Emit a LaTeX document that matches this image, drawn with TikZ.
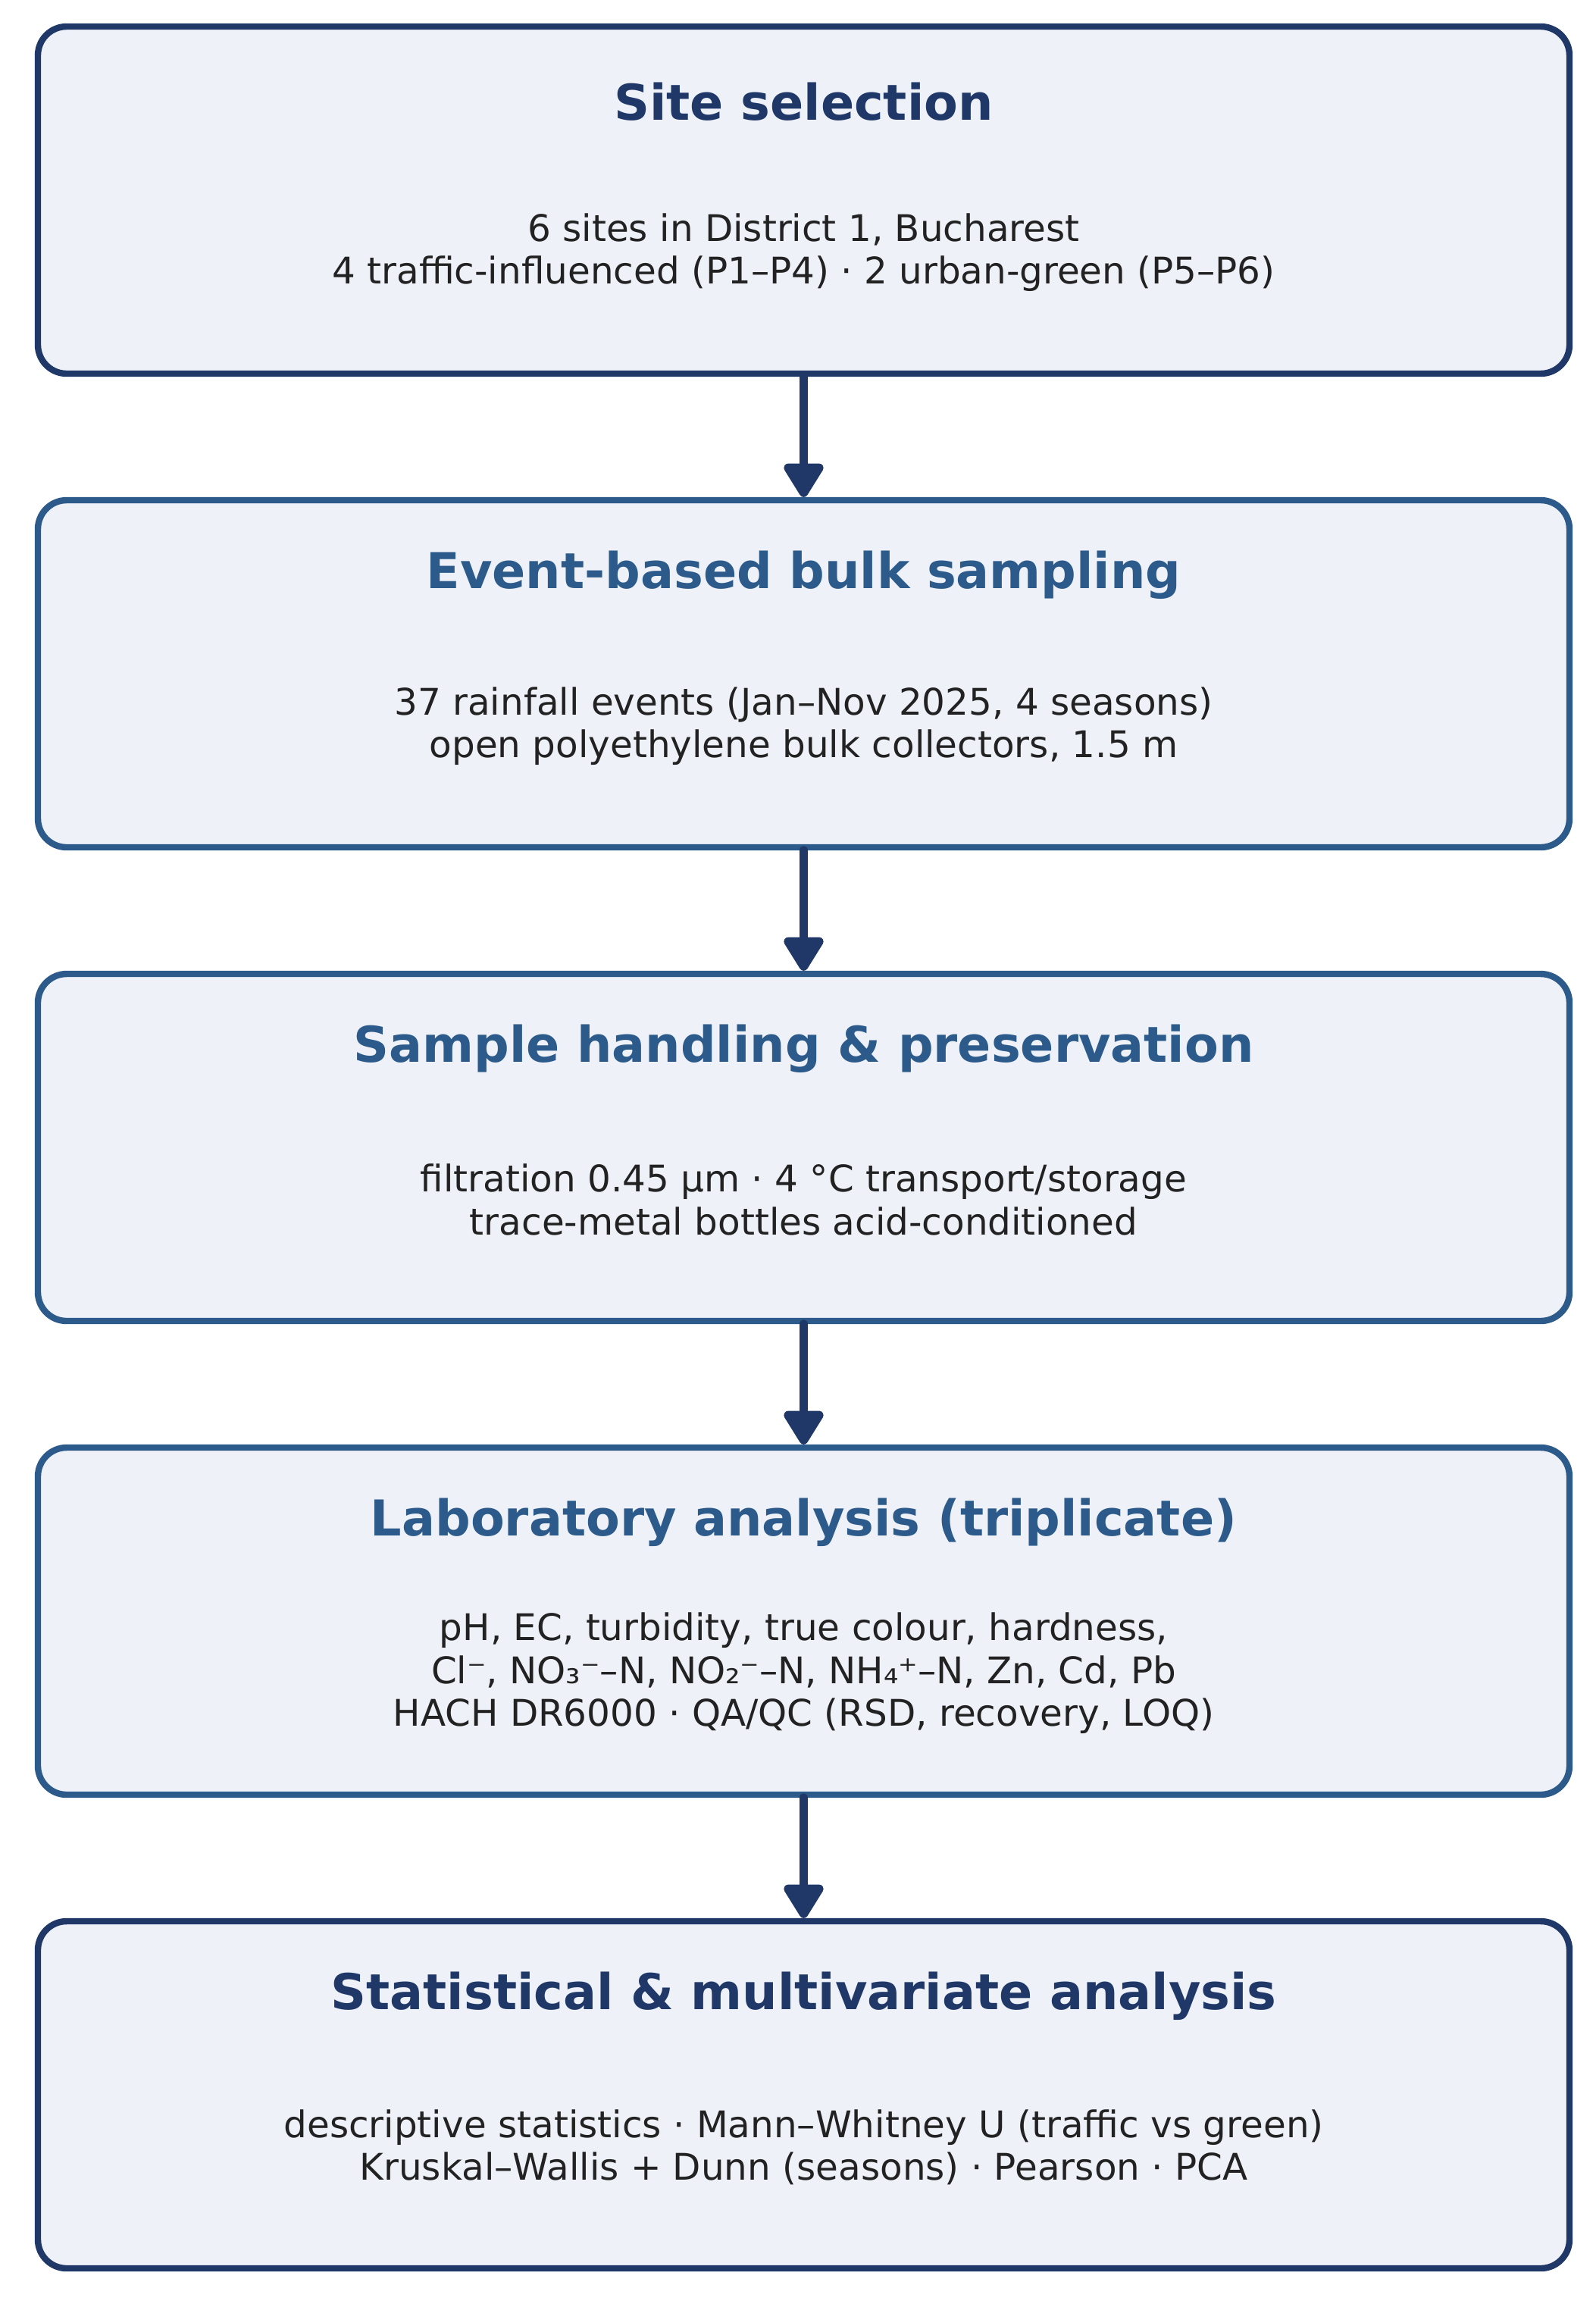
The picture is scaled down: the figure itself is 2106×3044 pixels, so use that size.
\documentclass[tikz,border=0pt]{standalone}
\usepackage{fontspec}
\setmainfont{DejaVu Sans}
\usetikzlibrary{arrows.meta}
\definecolor{navy}{HTML}{1F3868}
\definecolor{midblue}{HTML}{2C5A8A}
\definecolor{boxfill}{HTML}{EEF1F8}
\definecolor{bodytxt}{HTML}{222222}
\tikzset{
  stagebox/.style={draw, rounded corners=9.5pt, fill=boxfill, line width=2.1pt,
    minimum width=505.25pt, minimum height=114.5pt, inner sep=0pt},
  stagetitle/.style={font=\fontsize{16.3pt}{19pt}\selectfont\bfseries, inner sep=0pt, anchor=center},
  stagebody/.style={font=\fontsize{12.1pt}{14.1pt}\selectfont, text=bodytxt, align=center, inner sep=0pt, anchor=center},
  flowarrow/.style={draw=navy, line width=2.9pt, line cap=round,
    -{Triangle[width=14.5pt,length=12.5pt,round]}, fill=navy}
}
\begin{document}
\begin{tikzpicture}[x=0.25pt,y=-0.25pt]
\useasboundingbox (0,0) rectangle (2106,3044);
% boxes
\node[stagebox, draw=navy]    (b1) at (1060.5,264)  {};
\node[stagebox, draw=midblue] (b2) at (1060.5,889)  {};
\node[stagebox, draw=midblue] (b3) at (1060.5,1514) {};
\node[stagebox, draw=midblue] (b4) at (1060.5,2139) {};
\node[stagebox, draw=navy]    (b5) at (1060.5,2764) {};
% titles
\node[stagetitle, text=navy]    (t1) at (1060.5,134)  {Site selection};
\node[stagetitle, text=midblue] (t2) at (1060.5,759)  {Event-based bulk sampling};
\node[stagetitle, text=midblue] (t3) at (1060.5,1384) {Sample handling \& preservation};
\node[stagetitle, text=midblue] (t4) at (1060.5,2009) {Laboratory analysis (triplicate)};
\node[stagetitle, text=navy]    (t5) at (1060.5,2634) {Statistical \& multivariate analysis};
% bodies
\node[stagebody] (d1) at (1060.5,333)  {6 sites in District 1, Bucharest\\4 traffic-influenced (P1–P4) · 2 urban-green (P5–P6)};
\node[stagebody] (d2) at (1060.5,958)  {37 rainfall events (Jan–Nov 2025, 4 seasons)\\open polyethylene bulk collectors, 1.5 m};
\node[stagebody] (d3) at (1060.5,1583) {filtration 0.45 µm · 4 °C transport/storage\\trace-metal bottles acid-conditioned};
\node[stagebody] (d4) at (1060.5,2208) {pH, EC, turbidity, true colour, hardness,\\Cl⁻, NO₃⁻–N, NO₂⁻–N, NH₄⁺–N, Zn, Cd, Pb\\HACH DR6000 · QA/QC (RSD, recovery, LOQ)};
\node[stagebody] (d5) at (1060.5,2833) {descriptive statistics · Mann–Whitney U (traffic vs green)\\Kruskal–Wallis + Dunn (seasons) · Pearson · PCA};
% arrows
\draw[flowarrow] (b1.south) -- (b2.north);
\draw[flowarrow] (b2.south) -- (b3.north);
\draw[flowarrow] (b3.south) -- (b4.north);
\draw[flowarrow] (b4.south) -- (b5.north);
\end{tikzpicture}
\end{document}
